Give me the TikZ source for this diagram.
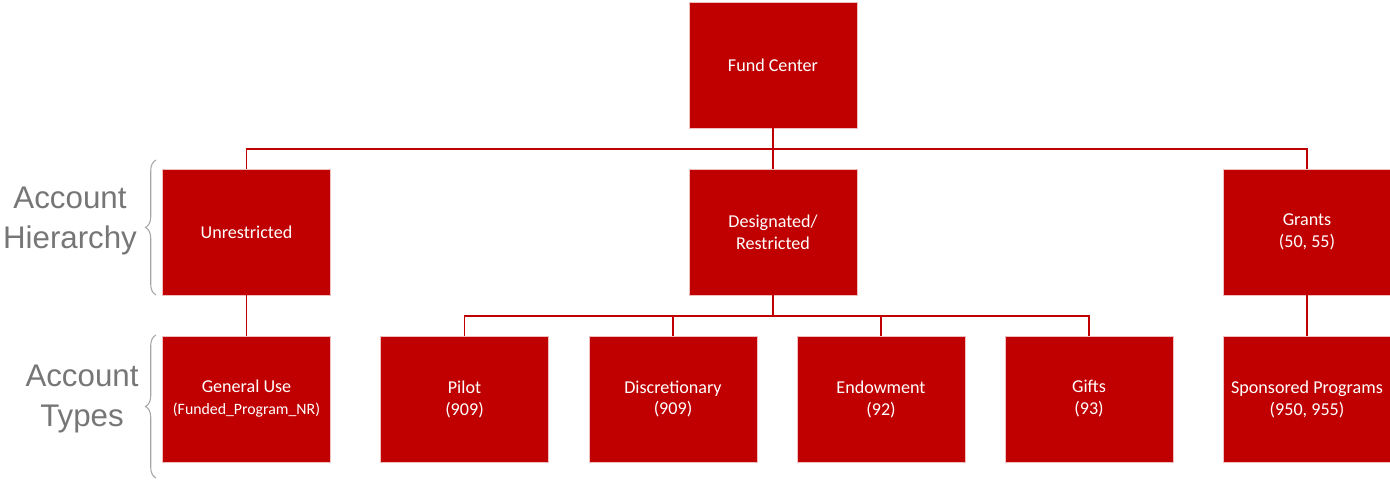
\documentclass[tikz,border=0pt]{standalone}
\usepackage{fontspec}
\setmainfont{Carlito}
\newfontfamily\sidefont{Liberation Sans}
\usepackage{xcolor}
\usetikzlibrary{positioning, decorations.pathreplacing}
\definecolor{fundred}{RGB}{192,0,0}
\definecolor{sidegray}{RGB}{118,118,118}

\begin{document}
\begin{tikzpicture}[x=0.02cm, y=0.02cm,
box/.style={rectangle, fill=fundred, draw=white!75!fundred, line width=0.5pt, minimum width=3.36cm, minimum height=2.52cm, inner sep=0pt, align=center, text=white, font=\fontsize{10.3}{12.5}\selectfont},
link/.style={draw=fundred, line width=1.1pt},
side/.style={align=center, text=sidegray, font=\sidefont\fontsize{17.8}{22.7}\selectfont},
curly/.style={draw=gray!70, line width=0.6pt, decorate, decoration={brace, amplitude=6pt}},
]
\useasboundingbox (0,0) rectangle (1390,483);

% Boxes
\node[box] (fund) at (773,418) {Fund Center};
\node[box] (unres) at (246.5,251) {Unrestricted};
\node[box] (desig) at (773,251) {Designated/\\Restricted};
\node[box] (grants) at (1307,251) {Grants\\(50, 55)};

\node[box] (general) at (246.5,84) {General Use\\{\fontsize{9}{12.5}\selectfont(Funded\_Program\_NR)}};
\node[box] (pilot) at (464.5,84) {Pilot\\(909)};
\node[box] (discr) at (673,84) {Discretionary\\(909)};
\node[box] (endow) at (881,84) {Endowment\\(92)};
\node[box] (gifts) at (1089,84) {Gifts\\(93)};
\node[box] (sponsored) at (1307,84) {Sponsored Programs\\(950, 955)};

% Lines
\coordinate (topbus) at (773,334);
\coordinate (midbus) at (773,167);
\draw[link] (fund) -- (desig.north);
\draw[link] (unres.north) |- (topbus) -| (grants.north);
\draw[link] (desig.south) -- (midbus);
\draw[link] (pilot.north) |- (midbus) -| (gifts.north);
\draw[link] (discr.north) -- (discr.north |- midbus);
\draw[link] (endow.north) -- (endow.north |- midbus);
\draw[link] (unres.south) -- (general.north);
\draw[link] (grants.south) -- (sponsored.north);

% Braces and labels on the left
\draw[curly] (156,188) -- (156,323);
\draw[curly] (156,5) -- (156,148);
\node[side] (hier) at (70,262) {Account\\Hierarchy};
\node[side] (types) at (82,84) {Account\\Types};

\end{tikzpicture}
\end{document}
